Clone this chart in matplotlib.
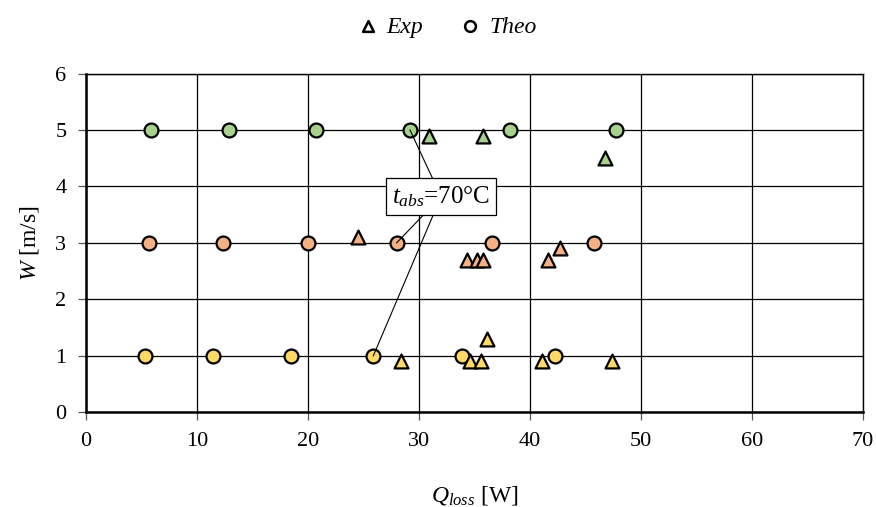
import matplotlib.pyplot as plt

plt.rcParams["font.family"] = ["Liberation Serif", "DejaVu Serif"]
plt.rcParams["mathtext.fontset"] = "custom"
plt.rcParams["mathtext.rm"] = "Liberation Serif"
plt.rcParams["mathtext.it"] = "Liberation Serif:italic"

# theoretical values, one row per air speed
theo_w = [1, 3, 5]
theo_q = [
    [5.3, 11.5, 18.5, 25.9, 33.9, 42.3],
    [5.7, 12.4, 20.0, 28.0, 36.6, 45.8],
    [5.85, 12.9, 20.7, 29.2, 38.2, 47.8],
]

# experimental values
exp_q = [
    [28.4, 34.6, 35.6, 36.1, 41.1, 47.4],
    [24.5, 34.3, 35.2, 35.8, 41.6, 42.7],
    [30.9, 35.8, 46.8],
]
exp_w = [
    [0.9, 0.9, 0.9, 1.3, 0.9, 0.9],
    [3.1, 2.7, 2.7, 2.7, 2.7, 2.9],
    [4.9, 4.9, 4.5],
]

colors = ["#FFD966", "#F4B183", "#A9D18E"]

label_pos = (32.0, 3.82)
label_targets = [(29.2, 5), (28.0, 3), (25.9, 1)]

fig = plt.figure(figsize=(8.76, 5.07), dpi=100)
ax = fig.add_axes([0.098, 0.187, 0.887, 0.668])

for i in range(3):
    ax.scatter(theo_q[i], [theo_w[i]] * len(theo_q[i]), s=100, marker="o",
               facecolor=colors[i], edgecolor="black", linewidth=1.6, zorder=3)
    ax.scatter(exp_q[i], exp_w[i], s=100, marker="^",
               facecolor=colors[i], edgecolor="black", linewidth=1.6, zorder=3)

for tx, ty in label_targets:
    ax.plot([label_pos[0], tx], [label_pos[1], ty], color="black", lw=0.8, zorder=4)

ax.text(label_pos[0], label_pos[1], r"$t_{abs}$=70°C", fontsize=18,
        ha="center", va="center", zorder=5,
        bbox=dict(boxstyle="square,pad=0.25", facecolor="white",
                  edgecolor="black", linewidth=0.9))

ax.set_xlim(0, 70)
ax.set_ylim(0, 6)
ax.set_xticks(range(0, 71, 10))
ax.set_yticks(range(0, 7))
ax.grid(True, color="black", linewidth=0.9)
ax.set_axisbelow(True)
ax.tick_params(axis="both", labelsize=16, direction="out", length=6,
               width=0.9, color="#555555")
ax.tick_params(axis="x", pad=8)
ax.tick_params(axis="y", pad=8)
for side in ["left", "bottom"]:
    ax.spines[side].set_linewidth(1.8)
for side in ["top", "right"]:
    ax.spines[side].set_linewidth(1.0)

ax.set_xlabel(r"$Q_{loss}$ [W]", fontsize=17, labelpad=24)
ax.set_ylabel(r"$W$ [m/s]", fontsize=17, labelpad=10)

h1 = ax.scatter([], [], s=60, marker="^", facecolor="white", edgecolor="black", linewidth=1.8)
h2 = ax.scatter([], [], s=60, marker="o", facecolor="white", edgecolor="black", linewidth=1.8)
fig.legend([h1, h2], ["Exp", "Theo"], loc="center", bbox_to_anchor=(0.508, 0.947),
           ncol=2, frameon=False, prop={"style": "italic", "size": 17},
           handletextpad=0.2, columnspacing=1.4, handlelength=1.2)

fig.savefig("out.png", dpi=100)
